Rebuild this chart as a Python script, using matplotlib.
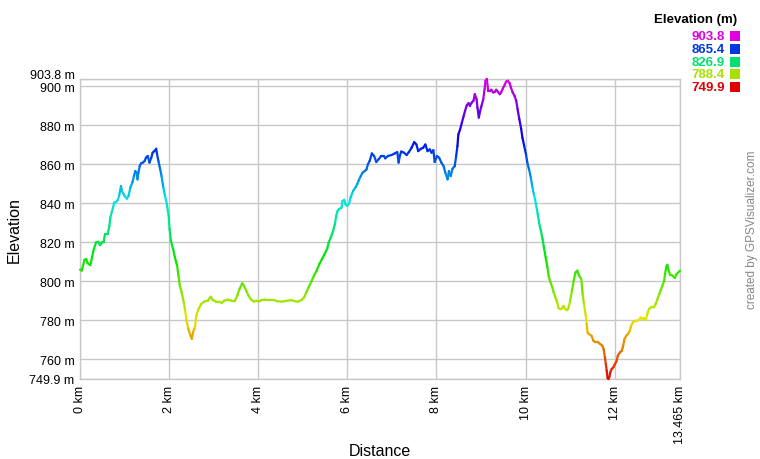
import numpy as np
import matplotlib
matplotlib.use("Agg")
import matplotlib.pyplot as plt
from matplotlib.collections import LineCollection
from matplotlib.patches import Rectangle
from matplotlib.colors import hsv_to_rgb
from matplotlib.transforms import ScaledTranslation

plt.rcParams['font.family'] = ['Liberation Sans', 'DejaVu Sans']

dist_km = [0.00, 0.04, 0.10, 0.14, 0.17, 0.23, 0.27, 0.31, 0.36, 0.41, 0.45, 0.49, 0.53, 0.56, 0.62,
           0.66, 0.68, 0.72, 0.77, 0.81, 0.85, 0.88, 0.92, 0.94, 1.00, 1.05, 1.09, 1.13, 1.18, 1.21,
           1.24, 1.27, 1.29, 1.31, 1.34, 1.37, 1.41, 1.45, 1.48, 1.52, 1.56, 1.60, 1.63, 1.67, 1.71,
           1.73, 1.76, 1.80, 1.83, 1.87, 1.91, 1.95, 1.99, 2.01, 2.04, 2.09, 2.13, 2.18, 2.21, 2.24,
           2.28, 2.33, 2.36, 2.39, 2.43, 2.48, 2.51, 2.54, 2.58, 2.61, 2.66, 2.72, 2.79, 2.87, 2.93,
           2.98, 3.06, 3.13, 3.18, 3.24, 3.32, 3.39, 3.47, 3.53, 3.58, 3.64, 3.68, 3.73, 3.78, 3.84,
           3.90, 3.96, 4.01, 4.07, 4.14, 4.25, 4.36, 4.42, 4.52, 4.59, 4.67, 4.74, 4.82, 4.89, 4.97,
           5.03, 5.08, 5.13, 5.19, 5.25, 5.31, 5.37, 5.43, 5.49, 5.55, 5.58, 5.63, 5.68, 5.72, 5.75,
           5.78, 5.81, 5.87, 5.89, 5.93, 5.96, 6.00, 6.04, 6.07, 6.13, 6.18, 6.22, 6.25, 6.30, 6.34,
           6.39, 6.43, 6.46, 6.50, 6.55, 6.60, 6.65, 6.70, 6.76, 6.82, 6.85, 6.91, 6.99, 7.06, 7.12,
           7.15, 7.18, 7.21, 7.27, 7.33, 7.38, 7.44, 7.50, 7.55, 7.59, 7.65, 7.70, 7.75, 7.80, 7.85,
           7.89, 7.93, 7.96, 8.01, 8.06, 8.11, 8.16, 8.20, 8.25, 8.28, 8.32, 8.36, 8.41, 8.44, 8.47,
           8.49, 8.53, 8.57, 8.61, 8.64, 8.68, 8.72, 8.75, 8.79, 8.83, 8.86, 8.90, 8.92, 8.95, 8.98,
           9.01, 9.05, 9.08, 9.10, 9.13, 9.16, 9.20, 9.23, 9.27, 9.31, 9.34, 9.38, 9.42, 9.45, 9.49,
           9.53, 9.56, 9.60, 9.64, 9.67, 9.71, 9.75, 9.79, 9.82, 9.86, 9.90, 9.93, 9.97, 10.01, 10.04,
           10.08, 10.12, 10.15, 10.19, 10.23, 10.27, 10.30, 10.34, 10.38, 10.41, 10.45, 10.49, 10.52,
           10.56, 10.60, 10.63, 10.67, 10.71, 10.74, 10.78, 10.82, 10.85, 10.89, 10.93, 10.96, 11.00,
           11.04, 11.08, 11.12, 11.16, 11.20, 11.25, 11.28, 11.31, 11.35, 11.37, 11.39, 11.42, 11.48,
           11.52, 11.57, 11.63, 11.67, 11.72, 11.75, 11.78, 11.80, 11.82, 11.84, 11.86, 11.88, 11.90,
           11.93, 11.97, 12.00, 12.04, 12.07, 12.12, 12.16, 12.19, 12.22, 12.26, 12.30, 12.34, 12.37,
           12.41, 12.45, 12.49, 12.55, 12.58, 12.62, 12.66, 12.70, 12.73, 12.77, 12.82, 12.88, 12.92,
           12.96, 13.00, 13.03, 13.07, 13.11, 13.13, 13.16, 13.18, 13.21, 13.24, 13.30, 13.35, 13.39,
           13.465]

elev_m = [806.0, 805.5, 811.0, 811.4, 809.4, 808.3, 812.3, 816.5, 820.0, 820.3, 818.6, 820.0, 820.0, 824.2, 824.2,
          828.5, 832.7, 836.1, 840.4, 840.7, 841.8, 844.1, 848.9, 846.4, 843.8, 842.4, 843.8, 848.1, 851.0, 854.0,
          856.6, 855.7, 852.3, 855.7, 859.1, 860.5, 860.9, 861.7, 863.4, 864.3, 860.9, 863.4, 866.0, 866.8, 868.0,
          865.1, 861.7, 857.4, 854.0, 848.1, 843.8, 839.5, 833.6, 826.8, 820.8, 816.5, 812.3, 808.0, 802.9, 797.8,
          794.4, 789.2, 785.0, 779.9, 775.6, 772.2, 770.5, 774.2, 776.5, 782.4, 785.8, 788.4, 789.6, 790.1, 792.1,
          790.4, 789.6, 789.6, 788.9, 790.1, 790.6, 790.1, 789.8, 792.7, 796.1, 799.0, 797.8, 795.2, 792.7, 790.6,
          789.6, 790.1, 789.6, 790.4, 790.6, 790.4, 790.4, 789.8, 789.6, 789.8, 790.1, 790.4, 789.8, 789.6, 790.4,
          791.8, 794.4, 796.9, 799.8, 802.9, 805.4, 808.8, 811.4, 814.0, 816.9, 819.9, 822.5, 825.9, 829.3, 833.6,
          836.1, 837.0, 837.8, 841.2, 841.8, 839.5, 838.7, 840.0, 842.9, 846.4, 848.1, 849.8, 851.5, 854.0, 855.7,
          856.6, 857.4, 860.0, 861.7, 865.6, 864.3, 861.2, 862.6, 864.3, 864.3, 863.1, 864.3, 864.8, 865.6, 866.3,
          860.9, 864.6, 866.6, 866.0, 864.8, 866.3, 868.5, 871.4, 870.2, 866.8, 868.0, 868.5, 870.2, 866.8, 867.7,
          866.0, 867.3, 861.2, 864.3, 863.4, 860.9, 859.1, 855.7, 852.3, 856.6, 854.0, 857.8, 859.1, 864.1, 869.3,
          875.3, 877.9, 881.4, 884.8, 887.4, 890.3, 891.4, 890.0, 891.7, 892.6, 896.0, 893.4, 889.1, 884.0, 887.4,
          890.0, 893.4, 898.6, 902.9, 903.8, 897.8, 897.8, 898.3, 896.9, 897.2, 898.3, 897.2, 896.0, 896.9, 899.0,
          900.7, 902.4, 902.9, 901.7, 899.5, 896.9, 895.2, 892.6, 888.3, 883.1, 878.3, 873.6, 869.3, 865.0, 860.7,
          857.2, 852.9, 848.6, 844.3, 840.0, 834.8, 830.5, 826.2, 821.9, 817.6, 812.4, 807.2, 802.4,
          799.5, 796.9, 794.3, 791.7, 789.1, 786.2, 785.7, 786.2, 787.4, 785.7, 785.2, 786.2, 790.0,
          795.2, 800.3, 804.6, 805.5, 802.9, 801.2, 793.5, 788.4, 782.4, 778.1, 773.8, 773.0, 772.1,
          769.6, 768.7, 768.7, 767.9, 767.0, 765.3, 761.0, 757.6, 754.2, 750.4, 749.9, 751.0, 753.3,
          755.0, 755.9, 757.3, 759.0, 761.9, 763.6, 764.4, 767.0, 770.4, 772.1, 773.0, 774.7, 777.3,
          779.0, 779.8, 779.8, 780.2, 781.5, 780.7, 781.2, 780.2, 783.2, 785.8, 786.7, 786.7, 788.4,
          790.9, 793.5, 795.2, 797.8, 800.3, 803.8, 807.5, 808.5, 805.5, 803.4, 802.9, 801.7, 803.8,
          805.5]

x_ticks = [0, 2, 4, 6, 8, 10, 12, 13.465]
x_tick_labels = ["0 km", "2 km", "4 km", "6 km", "8 km", "10 km", "12 km", "13.465 km"]
y_ticks = [749.9, 760, 780, 800, 820, 840, 860, 880, 900, 903.8]
y_tick_labels = ["749.9 m", "760 m", "780 m", "800 m", "820 m", "840 m", "860 m", "880 m", "900 m", "903.8 m"]
legend_vals = [903.8, 865.4, 826.9, 788.4, 749.9]
legend_title = "Elevation (m)"

E_MIN, E_MAX = 749.9, 903.8


def elev_color(e, v=0.9):
    f = (e - E_MIN) / (E_MAX - E_MIN)
    return hsv_to_rgb((np.clip(f, 0, 1) * 300.0 / 360.0, 1.0, v))


W, H = 760, 460
fig = plt.figure(figsize=(W / 100, H / 100), dpi=100)
ax = fig.add_axes([80 / W, (H - 380) / H, 600 / W, 300 / H])

x = np.array(dist_km)
y = np.array(elev_m)
pts = np.column_stack([x, y]).reshape(-1, 1, 2)
segs = np.concatenate([pts[:-1], pts[1:]], axis=1)
cols = [elev_color((a + b) / 2) for a, b in zip(y[:-1], y[1:])]
lc = LineCollection(segs, colors=cols, linewidths=1.6, capstyle='round', joinstyle='round', zorder=3)
lc.set_clip_on(False)
ax.add_collection(lc)

ax.set_xlim(0, 13.465)
ax.set_ylim(E_MIN, E_MAX)
ax.set_xticks(x_ticks)
ax.set_xticklabels(x_tick_labels, rotation=90, fontsize=9)
ax.set_yticks(y_ticks)
ax.set_yticklabels(y_tick_labels, fontsize=9)
ax.tick_params(length=0, pad=4, colors='#000000')
ax.grid(True, color='#c8c8c8', linewidth=1.0, zorder=0)
ax.set_axisbelow(True)
for s in ax.spines.values():
    s.set_color('#c8c8c8')
    s.set_linewidth(1.0)

# nudge top label up (as in reference)
lbls = ax.get_yticklabels()
lbls[-1].set_transform(lbls[-1].get_transform() + ScaledTranslation(0, 4 / 72, fig.dpi_scale_trans))

ax.set_xlabel("Distance", fontsize=11.5)
ax.xaxis.set_label_coords(0.5, -(444 - 380) / 300)
ax.set_ylabel("Elevation", fontsize=11.5)
ax.yaxis.set_label_coords(-(80 - 22) / 600, 0.5)

# legend
fig.text(737 / W, 1 - 20 / H, legend_title, ha='right', va='center', fontsize=9.5, fontweight='bold')
for i, v in enumerate(legend_vals):
    yc = 37 + i * 12.8
    c = elev_color(v, 0.88)
    fig.text(725 / W, 1 - yc / H, f"{v:.1f}", ha='right', va='center', fontsize=9.5,
             fontweight='bold', color=c)
    fig.add_artist(Rectangle((730 / W, 1 - (yc + 5) / H), 10 / W, 10 / H,
                             transform=fig.transFigure, facecolor=c, edgecolor='none'))

fig.text(752 / W, 1 - 230 / H, "created by GPSVisualizer.com", rotation=90, ha='center', va='center',
         fontsize=8.5, color='#888888')

fig.savefig("out.png", dpi=100)
